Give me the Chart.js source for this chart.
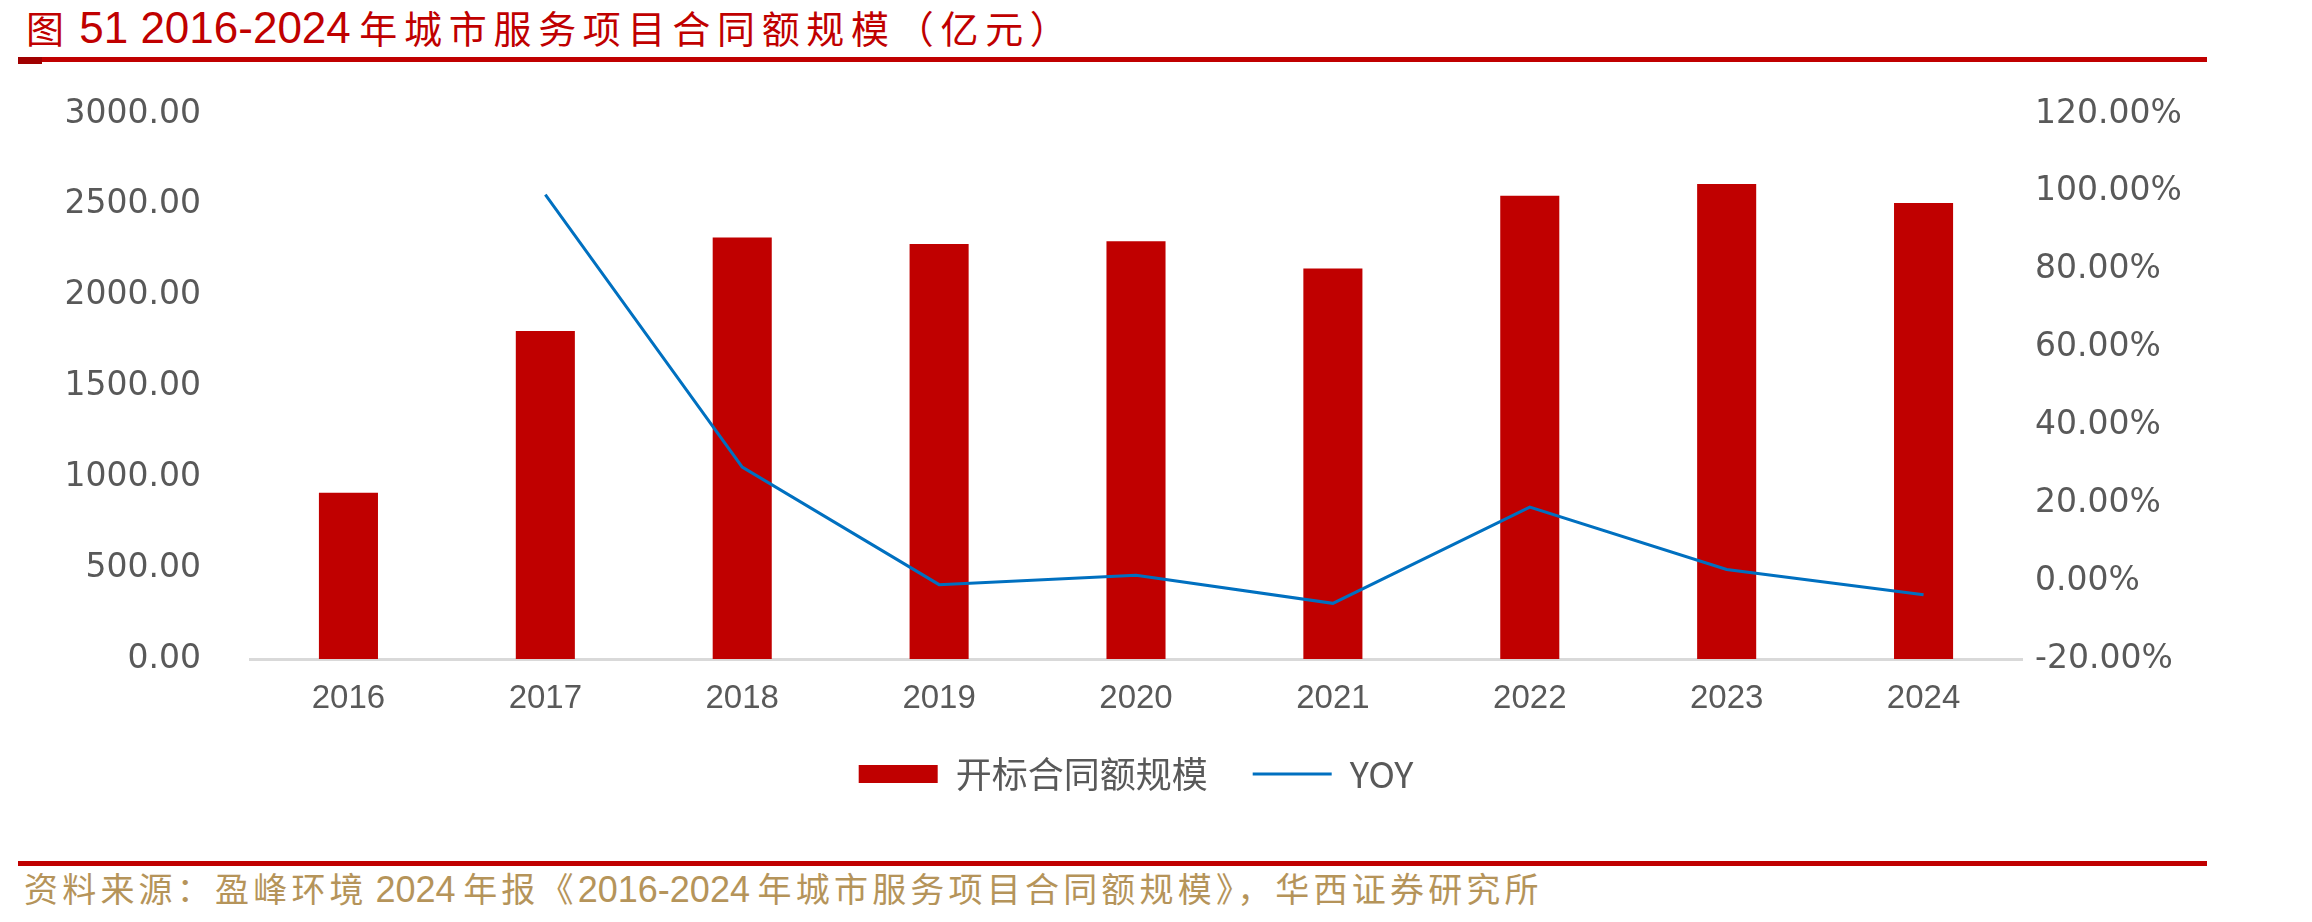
<!DOCTYPE html>
<html>
<head>
<meta charset="utf-8">
<script src="https://cdn.jsdelivr.net/npm/chart.js@4.4.1/dist/chart.umd.min.js"></script>
<style>
  body { margin: 0; background: #fff; width: 2312px; height: 922px; position: relative; overflow: hidden; }
  #title { position: absolute; left: 26px; top: 4px; color: #C00000; font-family: "Noto Sans CJK SC"; font-size: 38px; line-height: 46px; white-space: nowrap; }
  #title .num { font-family: "Liberation Sans"; font-size: 44px; letter-spacing: 0; }
  #title .cjk { letter-spacing: 6.7px; }
  .rule { position: absolute; left: 18px; width: 2189px; height: 5px; background: #C00000; }
  .stub { position: absolute; left: 18px; width: 24px; height: 7px; background: #A00000; }
  #source { position: absolute; left: 24px; top: 868px; color: #B5945A; font-family: "Noto Sans CJK SC"; font-size: 34px; line-height: 40px; white-space: nowrap; }
  #source .cjk { letter-spacing: 4.2px; }
  #source .num { font-family: "Liberation Sans"; font-size: 36px; }
  #wrap { position: absolute; left: 0; top: 70px; }
</style>
</head>
<body>
<div id="title"><span class="cjk">图</span> <span class="num">51 2016-2024</span> <span class="cjk">年城市服务项目合同额规模（亿元）</span></div>
<div class="rule" style="top:57px"></div>
<div class="stub" style="top:57px"></div>
<div id="wrap"><canvas id="contract-chart" width="2312" height="732"></canvas></div>
<div class="rule" style="top:861px"></div>
<div id="source"><span class="cjk">资料来源：盈峰环境</span> <span class="num">2024</span> <span class="cjk">年报《</span><span class="num">2016-2024</span> <span class="cjk">年城市服务项目合同额规模》，华西证券研究所</span></div>

<script>
const years = ["2016", "2017", "2018", "2019", "2020", "2021", "2022", "2023", "2024"];
const contractValues = [915, 1805, 2320, 2285, 2300, 2150, 2550, 2615, 2510];
const yoyValues = [null, 99.3, 29.3, -0.9, 1.5, -5.7, 19.0, 3.0, -3.5];
const leftTicks = [0, 500, 1000, 1500, 2000, 2500, 3000];
const rightTicks = [-20, 0, 20, 40, 60, 80, 100, 120];

const RED = "#C00000";
const BLUE = "#0070C0";
const GREY_TEXT = "#595959";

// y axes: fixed width, and no extra label padding pushing the plot down
function fixYAxis(axis) {
    axis.width = 250;
    axis.paddingTop = 0;
    axis.paddingBottom = 0;
}

const ctx = document.getElementById("contract-chart");

new Chart(ctx, {
    data: {
        labels: years,
        datasets: [{
            type: "line",
            label: "YOY",
            data: yoyValues,
            yAxisID: "y1",
            borderColor: BLUE,
            borderWidth: 3,
            pointRadius: 0,
            tension: 0,
            order: 1
        }, {
            type: "bar",
            label: "开标合同额规模",
            data: contractValues,
            yAxisID: "y",
            backgroundColor: RED,
            barPercentage: 0.3,
            categoryPercentage: 1,
            order: 2
        }]
    },
    options: {
        responsive: false,
        animation: false,
        layout: {
            padding: { top: 44, right: 40, left: 0, bottom: 0 }
        },
        plugins: {
            tooltip: { enabled: false },
            legend: {
                position: "bottom",
                labels: {
                    usePointStyle: true,
                    pointStyleWidth: 79,
                    boxHeight: 18,
                    padding: 45,
                    color: GREY_TEXT,
                    font: { family: "Noto Sans CJK SC", size: 36 },
                    generateLabels: () => [
                        { text: "开标合同额规模", fillStyle: RED, strokeStyle: RED, lineWidth: 0, pointStyle: "rect", fontColor: GREY_TEXT, datasetIndex: 1 },
                        { text: "YOY", fillStyle: BLUE, strokeStyle: BLUE, lineWidth: 3, pointStyle: "line", fontColor: GREY_TEXT, datasetIndex: 0 }
                    ]
                }
            }
        },
        scales: {
            x: {
                grid: { display: false, drawTicks: false },
                border: { display: true, color: "#D9D9D9", width: 3 },
                ticks: {
                    color: GREY_TEXT,
                    padding: 20,
                    font: { family: "Liberation Sans", size: 33 }
                },
                afterFit: (axis) => { axis.height = 52; }
            },
            y: {
                position: "left",
                min: leftTicks[0],
                max: leftTicks[leftTicks.length - 1],
                grid: { display: false, drawTicks: false },
                border: { display: false },
                afterBuildTicks: (axis) => { axis.ticks = leftTicks.map(v => ({ value: v })); },
                ticks: {
                    color: GREY_TEXT,
                    padding: 49,
                    font: { family: "DejaVu Sans", size: 33 },
                    callback: (v) => Number(v).toFixed(2)
                },
                afterFit: fixYAxis
            },
            y1: {
                position: "right",
                min: rightTicks[0],
                max: rightTicks[rightTicks.length - 1],
                grid: { display: false, drawTicks: false },
                border: { display: false },
                afterBuildTicks: (axis) => { axis.ticks = rightTicks.map(v => ({ value: v })); },
                ticks: {
                    color: GREY_TEXT,
                    padding: 13,
                    font: { family: "DejaVu Sans", size: 33 },
                    callback: (v) => Number(v).toFixed(2) + "%"
                },
                afterFit: fixYAxis
            }
        }
    }
});
</script>
</body>
</html>
